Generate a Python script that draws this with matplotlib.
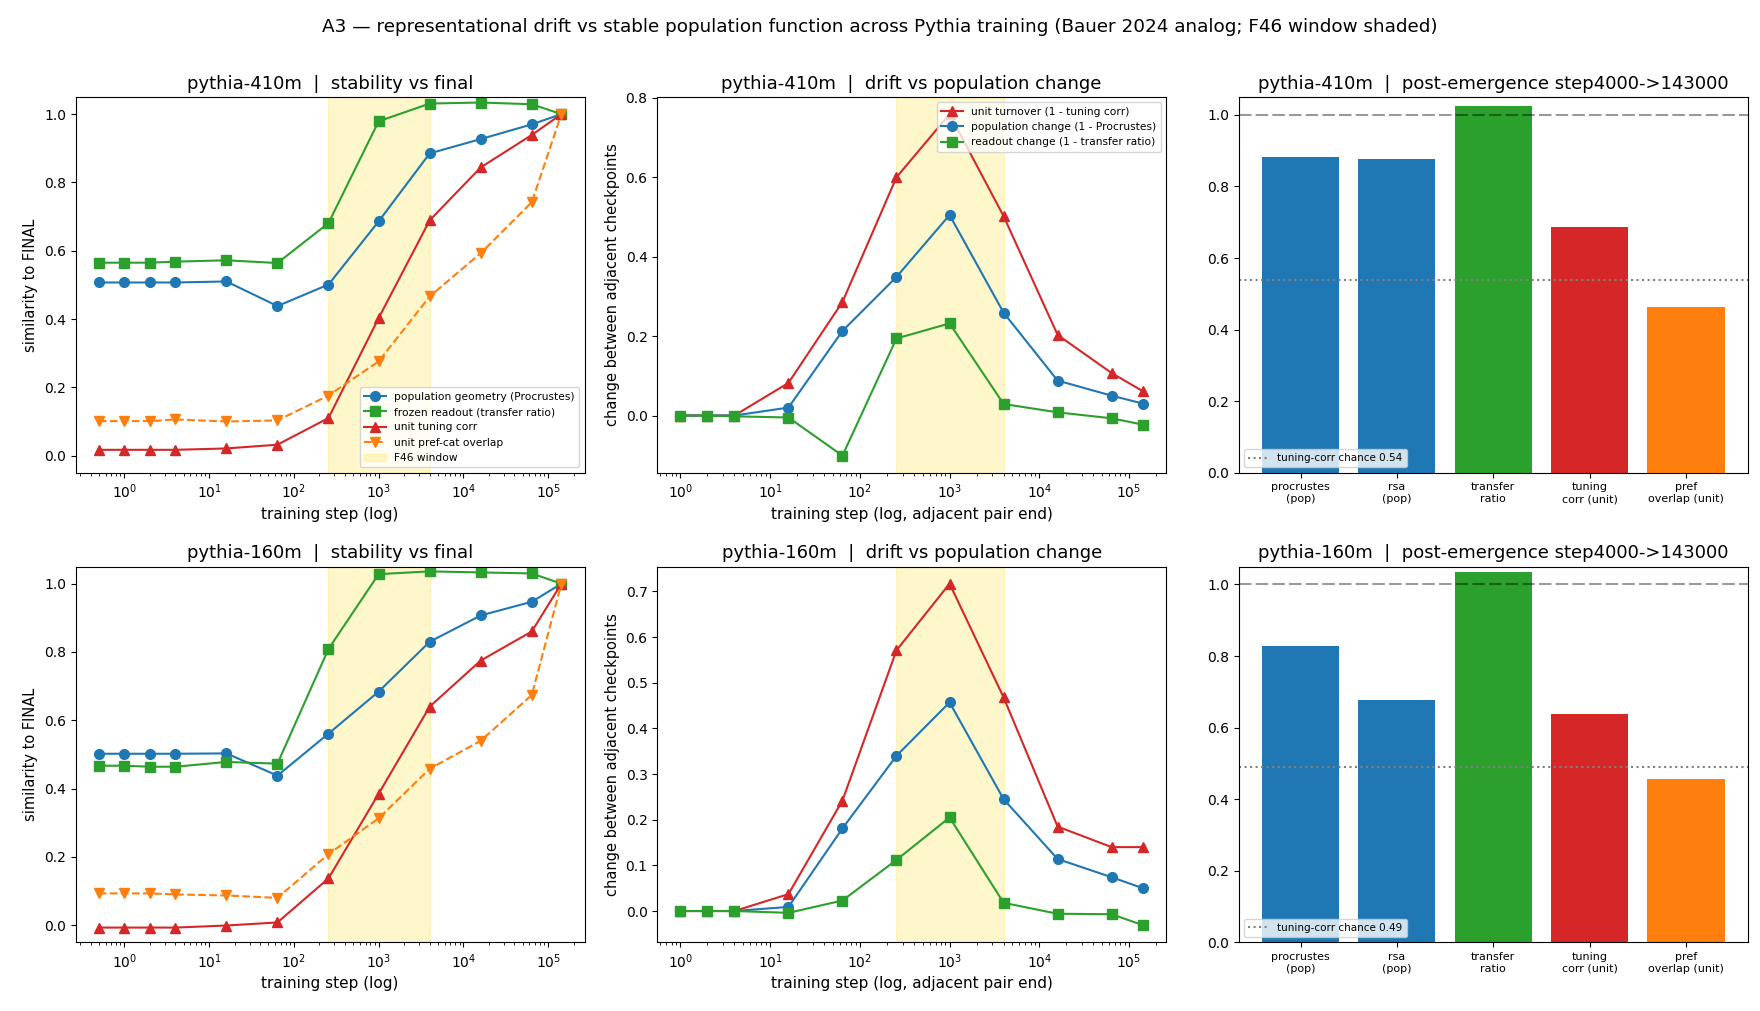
import numpy as np
import matplotlib
matplotlib.use("Agg")
import matplotlib.pyplot as plt

# checkpoints (step 0 is drawn at 0.5 on the log axis)
steps = [0.5, 1, 2, 4, 16, 64, 256, 1000, 4000, 16000, 64000, 143000]
pair_ends = [1, 2, 4, 16, 64, 256, 1000, 4000, 16000, 64000, 143000]
window = (256, 4000)

# similarity to final checkpoint
procrustes_410 = [0.507, 0.507, 0.507, 0.507, 0.510, 0.438, 0.501, 0.686, 0.885, 0.927, 0.970, 1.0]
transfer_410 = [0.565, 0.565, 0.565, 0.568, 0.572, 0.564, 0.681, 0.979, 1.031, 1.034, 1.029, 1.0]
tuning_410 = [0.017, 0.017, 0.017, 0.017, 0.021, 0.032, 0.110, 0.403, 0.689, 0.844, 0.939, 1.0]
pref_410 = [0.101, 0.101, 0.101, 0.106, 0.100, 0.103, 0.176, 0.276, 0.466, 0.593, 0.742, 1.0]

procrustes_160 = [0.502, 0.502, 0.502, 0.502, 0.503, 0.438, 0.561, 0.684, 0.830, 0.907, 0.947, 1.0]
transfer_160 = [0.467, 0.467, 0.464, 0.464, 0.478, 0.473, 0.809, 1.028, 1.036, 1.033, 1.030, 1.0]
tuning_160 = [-0.007, -0.007, -0.007, -0.007, -0.001, 0.008, 0.137, 0.385, 0.640, 0.775, 0.860, 1.0]
pref_160 = [0.093, 0.093, 0.093, 0.090, 0.087, 0.080, 0.208, 0.313, 0.458, 0.540, 0.674, 1.0]

# change between adjacent checkpoints
turnover_410 = [0.0, 0.0, 0.0, 0.082, 0.286, 0.600, 0.759, 0.502, 0.203, 0.107, 0.061]
popchange_410 = [0.0, 0.0, 0.0, 0.020, 0.213, 0.349, 0.505, 0.259, 0.088, 0.050, 0.030]
readout_410 = [0.0, 0.0, -0.002, -0.005, -0.101, 0.194, 0.232, 0.029, 0.008, -0.007, -0.023]

turnover_160 = [0.0, 0.0, 0.0, 0.037, 0.242, 0.571, 0.717, 0.468, 0.185, 0.140, 0.140]
popchange_160 = [0.0, 0.0, 0.0, 0.009, 0.181, 0.340, 0.457, 0.245, 0.114, 0.074, 0.050]
readout_160 = [0.0, 0.0, 0.0, -0.004, 0.023, 0.112, 0.205, 0.018, -0.006, -0.007, -0.031]

# post-emergence summary step4000 -> 143000
bar_labels = ["procrustes\n(pop)", "rsa\n(pop)", "transfer\nratio", "tuning\ncorr (unit)", "pref\noverlap (unit)"]
bar_colors = ["#1f77b4", "#1f77b4", "#2ca02c", "#d62728", "#ff7f0e"]
post_410 = [0.882, 0.876, 1.024, 0.687, 0.464]
post_160 = [0.829, 0.678, 1.035, 0.639, 0.455]
chance_410 = 0.54
chance_160 = 0.49

models = [
    ("pythia-410m", procrustes_410, transfer_410, tuning_410, pref_410,
     turnover_410, popchange_410, readout_410, post_410, chance_410),
    ("pythia-160m", procrustes_160, transfer_160, tuning_160, pref_160,
     turnover_160, popchange_160, readout_160, post_160, chance_160),
]

fig, axes = plt.subplots(2, 3, figsize=(17.6, 10.11), dpi=100)
fig.subplots_adjust(left=0.043, right=0.993, top=0.904, bottom=0.068, wspace=0.143, hspace=0.25)

for row, (name, pro, tra, tun, pre, turn, popc, rd, post, chance) in enumerate(models):
    # stability vs final
    ax = axes[row, 0]
    ax.plot(steps, pro, "-o", color="#1f77b4", ms=7, label="population geometry (Procrustes)")
    ax.plot(steps, tra, "-s", color="#2ca02c", ms=7, label="frozen readout (transfer ratio)")
    ax.plot(steps, tun, "-^", color="#d62728", ms=7, label="unit tuning corr")
    ax.plot(steps, pre, "--v", color="#ff7f0e", ms=7, label="unit pref-cat overlap")
    ax.axvspan(*window, color="gold", alpha=0.2, label="F46 window")
    ax.set_xscale("log")
    ax.set_ylim(-0.05, 1.05)
    ax.set_xlabel("training step (log)", fontsize=11)
    ax.set_ylabel("similarity to FINAL", fontsize=10.5)
    ax.set_title(f"{name}  |  stability vs final", fontsize=13)
    if row == 0:
        ax.legend(loc="lower right", fontsize=7.7)

    # drift vs population change
    ax = axes[row, 1]
    ax.plot(pair_ends, turn, "-^", color="#d62728", ms=7, label="unit turnover (1 - tuning corr)")
    ax.plot(pair_ends, popc, "-o", color="#1f77b4", ms=7, label="population change (1 - Procrustes)")
    ax.plot(pair_ends, rd, "-s", color="#2ca02c", ms=7, label="readout change (1 - transfer ratio)")
    ax.axvspan(*window, color="gold", alpha=0.2)
    ax.set_xscale("log")
    ax.set_xlabel("training step (log, adjacent pair end)", fontsize=11)
    ax.set_ylabel("change between adjacent checkpoints", fontsize=10.5)
    ax.set_title(f"{name}  |  drift vs population change", fontsize=13)
    if row == 0:
        ax.legend(loc="upper right", fontsize=7.7)

    # post-emergence bars
    ax = axes[row, 2]
    x = np.arange(len(bar_labels))
    ax.bar(x, post, color=bar_colors)
    ax.axhline(1.0, color="k", ls="--", dashes=(6, 2), alpha=0.4, lw=1.5)
    ax.axhline(chance, color="gray", ls=":", lw=1.5, label=f"tuning-corr chance {chance:.2f}")
    ax.set_xticks(x)
    ax.set_xticklabels(bar_labels, fontsize=8)
    ax.set_ylim(0, 1.05)
    ax.set_title(f"{name}  |  post-emergence step4000->143000", fontsize=13)
    ax.legend(loc="lower left", fontsize=7.5)

fig.suptitle("A3 \u2014 representational drift vs stable population function across Pythia training "
             "(Bauer 2024 analog; F46 window shaded)", fontsize=13.2, y=0.973, va="center")

fig.savefig("out.png", dpi=100)
